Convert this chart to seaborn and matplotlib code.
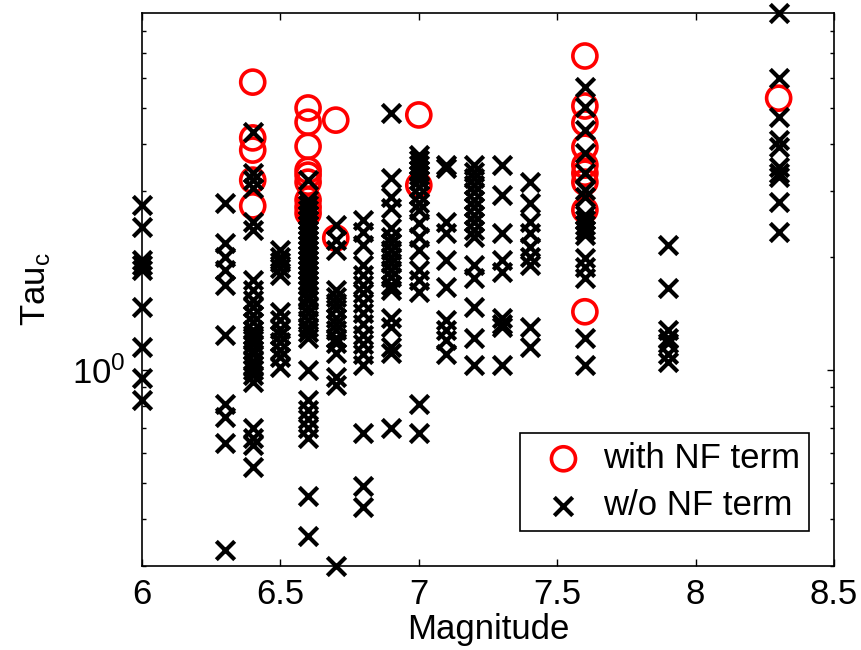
import matplotlib
matplotlib.use("Agg")
import matplotlib.pyplot as plt
import seaborn as sns
import numpy as np
import pandas as pd
from matplotlib.ticker import LogLocator, NullFormatter, FixedLocator

# ---- data ----
wo_60 = [2.75, 2.41, 1.96, 1.91, 1.85, 1.47, 1.15, 0.95, 0.83]
wo_63 = [2.79, 2.18, 2.0, 1.85, 1.69, 1.24, 0.81, 0.75, 0.64, 0.33]
wo_64 = [4.31, 3.35, 3.21, 3.06, 2.48, 2.36, 1.74, 1.63, 1.54, 1.47, 1.40, 1.34,
         1.28, 1.24, 1.20, 1.17, 1.13, 1.10, 1.06, 1.03, 1.0, 0.97, 0.93, 0.70,
         0.66, 0.63, 0.55]
wo_65 = [2.09, 2.0, 1.94, 1.87, 1.79, 1.43, 1.36, 1.29, 1.24, 1.19, 1.13, 1.08, 1.02]
wo_66 = [3.21, 2.84, 2.75, 2.67, 2.59, 2.51, 2.44, 2.36, 2.29, 2.22, 2.15, 2.09,
         2.03, 1.96, 1.91, 1.85, 1.79, 1.74, 1.69, 1.63, 1.58, 1.54, 1.47, 1.42,
         1.36, 1.30, 1.26, 1.22, 1.0, 0.83, 0.78, 0.74, 0.70, 0.66, 0.46, 0.36]
wo_67 = [2.44, 2.22, 2.09, 1.63, 1.57, 1.51, 1.45, 1.38, 1.33, 1.28, 1.22, 1.18,
         1.11, 0.96, 0.91, 0.30]
wo_68 = [2.51, 2.33, 2.15, 1.91, 1.79, 1.69, 1.60, 1.51, 1.42, 1.33, 1.24, 1.17,
         1.10, 1.03, 0.68, 0.49, 0.43]
wo_69 = [4.84, 3.25, 2.89, 2.70, 2.39, 2.26, 2.18, 2.09, 2.0, 1.93, 1.85, 1.77,
         1.69, 1.63, 1.38, 1.30, 1.15, 1.11, 0.70]
wo_70 = [3.74, 3.63, 3.52, 3.41, 3.31, 3.21, 3.08, 2.93, 2.79, 2.67, 2.47, 2.26,
         2.09, 1.85, 1.74, 1.61, 0.81, 0.68]
wo_71 = [3.52, 3.46, 2.48, 2.32, 1.96, 1.66, 1.36, 1.28, 1.20, 1.10]
wo_72 = [3.52, 3.37, 3.25, 3.11, 2.98, 2.84, 2.72, 2.59, 2.48, 2.36, 2.26, 1.91,
         1.76, 1.47, 1.22, 1.03]
wo_73 = [3.52, 2.93, 2.32, 1.96, 1.83, 1.38, 1.33, 1.30, 1.03]
wo_74 = [3.17, 2.79, 2.48, 2.32, 2.13, 2.0, 1.91, 1.30, 1.15]
wo_76 = [5.68, 5.03, 4.36, 3.79, 3.35, 3.02, 2.89, 2.59, 2.51, 2.44, 2.36, 2.29,
         1.99, 1.88, 1.76, 1.22, 1.03]
wo_79 = [2.15, 1.65, 1.28, 1.22, 1.18, 1.10, 1.05]
wo_83 = [8.96, 6.01, 4.73, 4.10, 3.93, 3.48, 3.35, 3.27, 2.81, 2.33]

nf_64 = [5.86, 4.16, 3.86, 3.21, 2.74]
nf_66 = [5.0, 4.58, 3.95, 3.41, 3.31, 3.17, 2.84, 2.72, 2.62]
nf_67 = [4.64, 2.25]
nf_70 = [4.79, 3.11]
nf_76 = [6.88, 5.06, 4.56, 3.93, 3.52, 3.35, 3.17, 2.67, 1.43]
nf_83 = [5.31]

wo_groups = [(6.0, wo_60), (6.3, wo_63), (6.4, wo_64), (6.5, wo_65), (6.6, wo_66),
             (6.7, wo_67), (6.8, wo_68), (6.9, wo_69), (7.0, wo_70), (7.1, wo_71),
             (7.2, wo_72), (7.3, wo_73), (7.4, wo_74), (7.6, wo_76), (7.9, wo_79),
             (8.3, wo_83)]
nf_groups = [(6.4, nf_64), (6.6, nf_66), (6.7, nf_67), (7.0, nf_70), (7.6, nf_76),
             (8.3, nf_83)]

x_ticks = [6, 6.5, 7, 7.5, 8, 8.5]
x_ticklabels = ["6", "6.5", "7", "7.5", "8", "8.5"]


def to_frame(groups):
    rows = [(m, t) for m, ts in groups for t in ts]
    return pd.DataFrame(rows, columns=["Magnitude", "Tau"])


df_wo = to_frame(wo_groups)
df_nf = to_frame(nf_groups)

# ---- style ----
plt.rcParams["font.family"] = ["Liberation Sans", "DejaVu Sans"]
plt.rcParams["mathtext.fontset"] = "custom"
plt.rcParams["mathtext.rm"] = "Liberation Sans"
plt.rcParams["mathtext.it"] = "Liberation Sans"
plt.rcParams["mathtext.default"] = "regular"

FS = 25

fig = plt.figure(figsize=(8.61, 6.5), dpi=100)
ax = fig.add_axes([142 / 861, 1 - 566 / 650, (834 - 142) / 861, (566 - 13) / 650])

sns.scatterplot(data=df_nf, x="Magnitude", y="Tau", ax=ax, marker="o", s=300,
                facecolors="none", edgecolor="#ff0000", linewidth=2.6,
                label="with NF term", clip_on=False, zorder=3)
sns.scatterplot(data=df_wo, x="Magnitude", y="Tau", ax=ax, marker="x", s=175,
                color="black", linewidth=3.0, label="w/o NF term",
                clip_on=False, zorder=4)

ax.set_yscale("log")
ax.set_xlim(6, 8.5)
ax.set_ylim(0.3, 8.96)
ax.set_xticks(x_ticks)
ax.set_xticklabels(x_ticklabels)
ax.yaxis.set_major_locator(FixedLocator([1.0]))
ax.yaxis.set_minor_locator(LogLocator(base=10, subs=np.arange(2, 10)))
ax.yaxis.set_minor_formatter(NullFormatter())

ax.tick_params(axis="both", which="both", direction="in", top=True, right=True,
               labelsize=FS, colors="black", width=1.0)
ax.tick_params(axis="both", which="major", length=5)
ax.tick_params(axis="x", which="major", pad=9)
ax.tick_params(axis="y", which="major", pad=12)
ax.tick_params(axis="both", which="minor", length=3)
ax.tick_params(axis="x", which="minor", top=False, bottom=False)

for sp in ax.spines.values():
    sp.set_visible(True)
    sp.set_color("black")
    sp.set_linewidth(1.2)

ax.set_xlabel("Magnitude", fontsize=FS)
ax.xaxis.set_label_coords(0.5, -0.085)
ax.set_ylabel(r"Tau$_{c}$", fontsize=FS)
ax.yaxis.set_label_coords(-0.128, 0.5)
ax.grid(False)
ax.set_facecolor("white")

handles, labels = ax.get_legend_handles_labels()
leg = ax.legend(handles, labels, loc="lower right", bbox_to_anchor=(0.964, 0.063),
                fontsize=FS, frameon=True, fancybox=False, edgecolor="black",
                framealpha=1, borderpad=0.25, handletextpad=0.15,
                labelspacing=0.42, borderaxespad=0, markerscale=1.0)
leg.get_frame().set_linewidth(1.2)

fig.savefig("out.png", dpi=100, facecolor="white")
